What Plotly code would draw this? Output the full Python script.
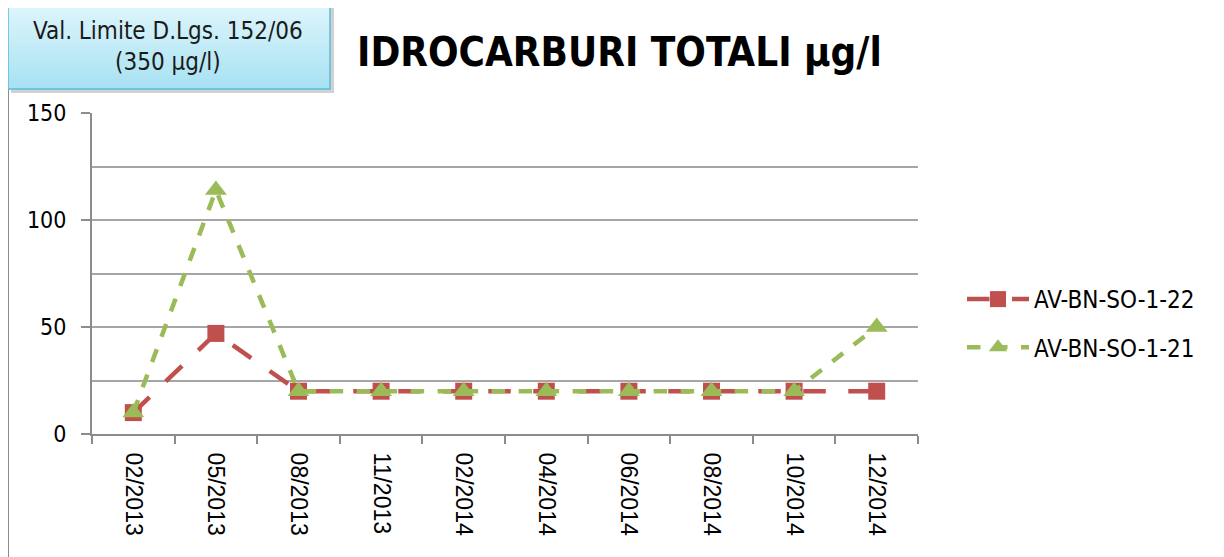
import plotly.graph_objects as go

categories = ["02/2013", "05/2013", "08/2013", "11/2013", "02/2014",
              "04/2014", "06/2014", "08/2014", "10/2014", "12/2014"]
series_22 = [10, 47, 20, 20, 20, 20, 20, 20, 20, 20]
series_21 = [10, 114, 20, 20, 20, 20, 20, 20, 20, 50]
y_ticks = [0, 50, 100, 150]

OFF = 8  # page body margin
W, H = 1224 - OFF, 557 - OFF
L, R, T, B = 92, 918, 113, 434  # target pixel positions

def px(x):
    return (x - L) / (R - L)

def py(y):
    return (B - y) / (B - T)

NARROW = "Liberation Sans Narrow, Arial Narrow, DejaVu Sans Condensed, sans-serif"

fig = go.Figure()
fig.add_trace(go.Scatter(
    x=categories, y=series_22, name="AV-BN-SO-1-22", mode="lines+markers",
    legendgroup="a",
    line=dict(color="#C0504D", width=4.5, dash="longdash"),
    marker=dict(symbol="square", size=17, color="#C0504D"),
))
fig.add_trace(go.Scatter(
    x=categories, y=series_21, name="AV-BN-SO-1-21", mode="lines+markers",
    legendgroup="b",
    line=dict(color="#9BBB59", width=4.5, dash="dash"),
    marker=dict(symbol="triangle-up", size=19, color="#9BBB59"),
))

shapes = []
# outer chart frame (top and left edges)
shapes.append(dict(type="line", xref="paper", yref="paper", x0=px(8), x1=px(1224),
                   y0=py(1), y1=py(1), line=dict(color="#7f7f7f", width=3)))
shapes.append(dict(type="line", xref="paper", yref="paper", x0=px(8), x1=px(8),
                   y0=py(0), y1=py(557), line=dict(color="#8c8c8c", width=2)))
# shadow of the box
shapes.append(dict(type="rect", xref="paper", yref="paper", x0=px(11), x1=px(334),
                   y0=py(93), y1=py(3), line=dict(width=0),
                   fillcolor="rgba(0,0,0,0.18)"))
# gradient box made of strips
top_c = (224, 246, 252)
bot_c = (168, 226, 243)
n = 18
y_top, y_bot = 0, 89
for i in range(n):
    t = i / (n - 1)
    c = tuple(int(round(top_c[k] + (bot_c[k] - top_c[k]) * t)) for k in range(3))
    ya = y_top + (y_bot - y_top) * i / n
    yb = y_top + (y_bot - y_top) * (i + 1) / n
    shapes.append(dict(type="rect", xref="paper", yref="paper", x0=px(8), x1=px(330),
                       y0=py(yb + 0.5), y1=py(ya), line=dict(width=0),
                       fillcolor="rgb(%d,%d,%d)" % c))
shapes.append(dict(type="rect", xref="paper", yref="paper", x0=px(8), x1=px(330),
                   y0=py(y_bot), y1=py(y_top), line=dict(color="#5bbcd8", width=1.5),
                   fillcolor="rgba(0,0,0,0)"))

annotations = [
    dict(text="Val. Limite D.Lgs. 152/06<br>(350 µg/l)", xref="paper", yref="paper",
         x=px(168), y=py(46), xanchor="center", yanchor="middle", showarrow=False,
         font=dict(family=NARROW, size=24, color="#1a1a1a"), align="center"),
    dict(text="<b>IDROCARBURI TOTALI µg/l</b>", xref="paper", yref="paper",
         x=px(619), y=py(52), xanchor="center", yanchor="middle", showarrow=False,
         font=dict(family=NARROW, size=40, color="#000000")),
]

fig.update_layout(
    width=W, height=H,
    margin=dict(l=L - OFF, r=1224 - R, t=T - OFF, b=557 - B, pad=0),
    paper_bgcolor="white", plot_bgcolor="white",
    showlegend=True,
    legend=dict(x=px(962), y=py(277), xanchor="left", yanchor="top",
                font=dict(family=NARROW, size=24, color="#000000"),
                tracegroupgap=14, itemwidth=62, bgcolor="rgba(0,0,0,0)"),
    shapes=shapes, annotations=annotations,
    xaxis=dict(type="category", tickson="boundaries", ticks="outside", ticklen=8,
               tickcolor="#8c8c8c", tickwidth=2, showline=True, linecolor="#8c8c8c",
               linewidth=2, showgrid=False, tickangle=90, ticklabelstandoff=12,
               tickfont=dict(family="Liberation Sans, Arial, sans-serif", size=23, color="#000"),
               range=[-0.5, 9.5], fixedrange=True),
    yaxis=dict(range=[0, 150], tickvals=y_ticks, ticks="outside", ticklen=9,
               tickcolor="#8c8c8c", tickwidth=2, showline=True, linecolor="#8c8c8c",
               linewidth=2, showgrid=True, gridcolor="#a6a6a6", gridwidth=1.5,
               zeroline=False, ticklabelstandoff=10,
               tickfont=dict(family=NARROW, size=23, color="#000"),
               minor=dict(dtick=25, showgrid=True, gridcolor="#a6a6a6", gridwidth=1.5, ticks=""),
               fixedrange=True),
)

fig.write_html("out.html")
